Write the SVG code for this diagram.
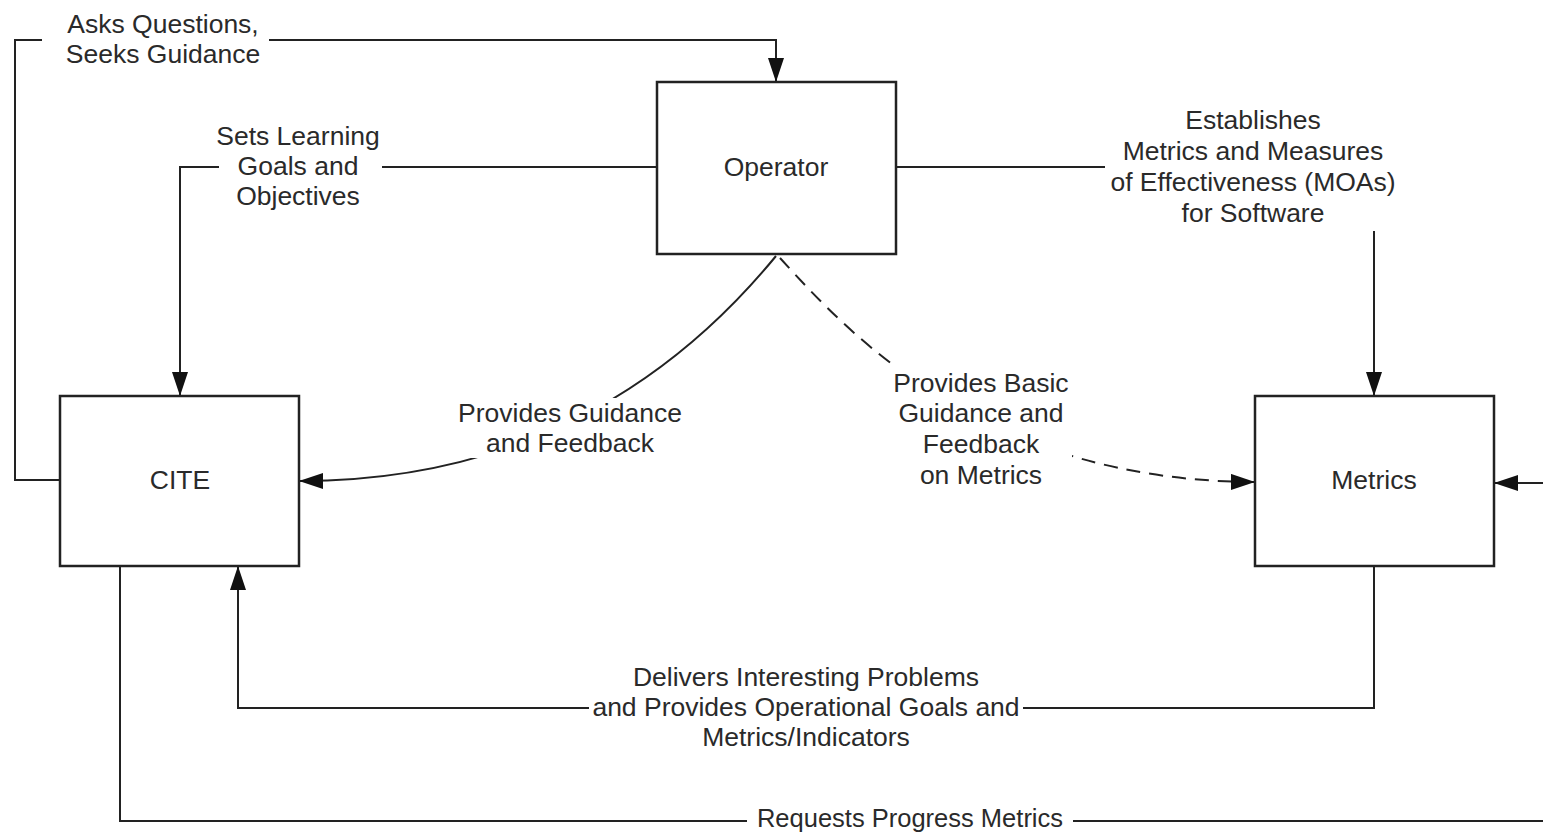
<svg xmlns="http://www.w3.org/2000/svg" width="1543" height="833" viewBox="0 0 1543 833">
<defs>
<marker id="arr" viewBox="0 0 24 16" refX="24" refY="8" markerWidth="24" markerHeight="16" markerUnits="userSpaceOnUse" orient="auto">
<path d="M0,0 L24,8 L0,16 Z" fill="#111"/>
</marker>
<style>
.box{fill:#fff;stroke:#222;stroke-width:2.5}
.ln{fill:none;stroke:#222;stroke-width:2}
.dash{stroke-dasharray:14 9}
.bg{fill:#fff}
text{font-family:"Liberation Sans",Arial,sans-serif;font-size:26.5px;fill:#2a2a2a;text-anchor:middle}
</style>
</defs>
<rect width="1543" height="833" fill="#fff"/>
<g id="connectors">
<path class="ln" d="M60,480 H15 V40 H776 V82" marker-end="url(#arr)"/>
<path class="ln" d="M657,167 H180 V396" marker-end="url(#arr)"/>
<path class="ln" d="M896,167 H1374 V396" marker-end="url(#arr)"/>
<path class="ln" d="M776,256 Q591,481 299,481" marker-end="url(#arr)"/>
<path class="ln dash" d="M780,258 C850,335 985,481 1255,482" marker-end="url(#arr)"/>
<path class="ln" d="M1543,483 H1494" marker-end="url(#arr)"/>
<path class="ln" d="M1374,566 V708 H238 V566" marker-end="url(#arr)"/>
<path class="ln" d="M120,566 V821 H1543"/>
</g>
<g id="labels">
<g id="lbl-asks">
<rect class="bg" x="42" y="10" width="227" height="62"/>
<text x="163" y="33">Asks Questions,</text>
<text x="163" y="63">Seeks Guidance</text>
</g>
<g id="lbl-sets">
<rect class="bg" x="219" y="120" width="163" height="92"/>
<text x="298" y="145">Sets Learning</text>
<text x="298" y="175">Goals and</text>
<text x="298" y="205">Objectives</text>
</g>
<g id="lbl-establishes">
<rect class="bg" x="1105" y="103" width="296" height="128"/>
<text x="1253" y="129">Establishes</text>
<text x="1253" y="160">Metrics and Measures</text>
<text x="1253" y="191">of Effectiveness (MOAs)</text>
<text x="1253" y="222">for Software</text>
</g>
<g id="lbl-guidance">
<rect class="bg" x="455" y="398" width="230" height="60"/>
<text x="570" y="422">Provides Guidance</text>
<text x="570" y="452">and Feedback</text>
</g>
<g id="lbl-basic">
<rect class="bg" x="888" y="366" width="184" height="126"/>
<text x="981" y="392">Provides Basic</text>
<text x="981" y="422">Guidance and</text>
<text x="981" y="453">Feedback</text>
<text x="981" y="484">on Metrics</text>
</g>
<g id="lbl-delivers">
<rect class="bg" x="589" y="664" width="434" height="90"/>
<text x="806" y="686">Delivers Interesting Problems</text>
<text x="806" y="716">and Provides Operational Goals and</text>
<text x="806" y="746">Metrics/Indicators</text>
</g>
<g id="lbl-requests">
<rect class="bg" x="747" y="806" width="326" height="27"/>
<text x="910" y="827" style="font-size:25.5px">Requests Progress Metrics</text>
</g>
</g>
<g id="node-operator">
<rect class="box" x="657" y="82" width="239" height="172"/>
<text x="776" y="176">Operator</text>
</g>
<g id="node-cite">
<rect class="box" x="60" y="396" width="239" height="170"/>
<text x="180" y="489">CITE</text>
</g>
<g id="node-metrics">
<rect class="box" x="1255" y="396" width="239" height="170"/>
<text x="1374" y="489">Metrics</text>
</g>
</svg>
